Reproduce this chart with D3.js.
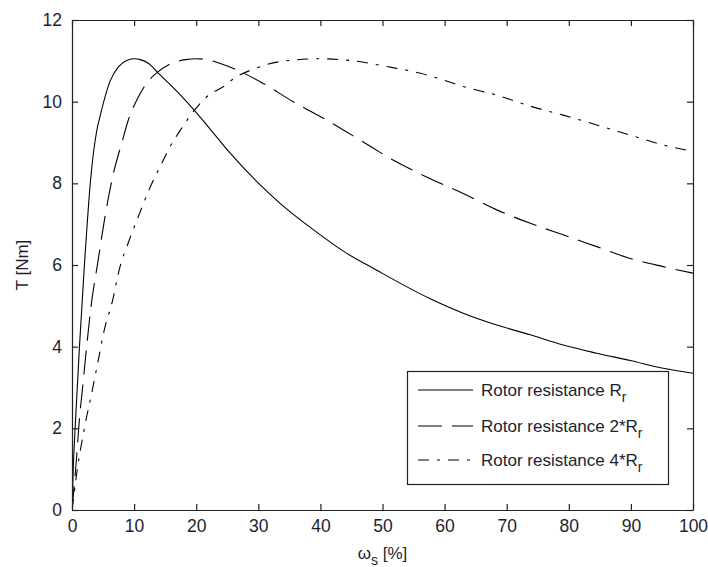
<!DOCTYPE html>
<html><head><meta charset="utf-8">
<script src="https://cdn.jsdelivr.net/npm/d3@7"></script>
<style>body{margin:0;background:#fff}svg{display:block}text{font-family:Arial,"Liberation Sans",sans-serif;}</style>
</head><body><div id="chart"></div>
<script>
// Data
const sR1 = [0, 0.2, 0.5, 1.2, 2.0, 3.0, 4.0, 4.5, 6.1, 7.5, 9.0, 10.0, 11.0, 12.3, 13.9, 16.9, 20.6, 25.4, 30.3, 33.5, 38.9, 44.2, 48.5, 57.6, 63.0, 68.4, 73.8, 79.1, 84.5, 89.9, 95.2, 100];
const tR1 = [0, 1.0, 2.0, 4.0, 6.0, 8.1, 9.3, 9.63, 10.49, 10.86, 11.02, 11.05, 11.03, 10.94, 10.7, 10.25, 9.63, 8.75, 7.96, 7.51, 6.86, 6.29, 5.92, 5.18, 4.82, 4.53, 4.29, 4.04, 3.84, 3.66, 3.47, 3.35];
const sR2 = [0, 0.75, 1.18, 1.72, 2.36, 3.06, 4.13, 5.5, 6.6, 8.0, 9.07, 10.7, 12.0, 13.6, 15.8, 18.3, 20.0, 21.7, 24.0, 30.3, 35.6, 41.0, 46.4, 51.7, 57.6, 63.0, 68.4, 73.8, 79.1, 84.5, 89.9, 95.2, 100];
const tR2 = [0, 1.31, 2.2, 3.02, 4.0, 4.98, 6.04, 7.35, 8.2, 8.98, 9.55, 10.12, 10.45, 10.7, 10.92, 11.03, 11.05, 11.03, 10.93, 10.49, 10.0, 9.55, 9.06, 8.57, 8.12, 7.75, 7.35, 7.02, 6.74, 6.45, 6.16, 5.96, 5.80];
const sR4 = [0, 0.48, 0.91, 1.45, 2.25, 3.06, 4.13, 5.2, 6.55, 7.6, 9.2, 10.9, 12.4, 14.2, 15.8, 17.4, 19.5, 21.7, 24.4, 26.5, 28.6, 33.5, 39.9, 45.3, 50.7, 56.0, 59.0, 63.0, 68.4, 73.8, 79.1, 84.5, 89.9, 95.2, 100];
const tR4 = [0, 0.57, 1.06, 1.55, 2.2, 2.78, 3.59, 4.41, 5.14, 5.88, 6.6, 7.27, 7.84, 8.41, 8.9, 9.29, 9.75, 10.12, 10.37, 10.61, 10.76, 10.98, 11.05, 11.0, 10.86, 10.7, 10.57, 10.37, 10.16, 9.89, 9.67, 9.43, 9.18, 8.94, 8.78];
const xTicks = [0, 10, 20, 30, 40, 50, 60, 70, 80, 90, 100];
const yTicks = [0, 2, 4, 6, 8, 10, 12];
const seriesNames = ["Rotor resistance ", "Rotor resistance 2*", "Rotor resistance 4*"];
const dashes = [null, "24,10", "11,8,3,8"];

const W = 708, H = 567;
const m = {l: 72, r: 15, t: 20, b: 57};
const svg = d3.select("#chart").append("svg").attr("width", W).attr("height", H);
const x = d3.scaleLinear().domain([0, 100]).range([m.l, W - m.r]);
const y = d3.scaleLinear().domain([0, 12]).range([H - m.b, m.t]);
const ink = "#1e1e2e";

svg.append("defs").append("clipPath").attr("id", "clip")
  .append("rect").attr("x", m.l).attr("y", m.t).attr("width", W - m.r - m.l).attr("height", H - m.b - m.t);

const line = d3.line().x(d => x(d[0])).y(d => y(d[1])).curve(d3.curveMonotoneX);
const series = [[sR1, tR1], [sR2, tR2], [sR4, tR4]];
const g = svg.append("g").attr("clip-path", "url(#clip)");
series.forEach((s, i) => {
  const pts = s[0].map((v, j) => [v, s[1][j]]);
  g.append("path").datum(pts).attr("d", line).attr("fill", "none")
    .attr("stroke", "#000").attr("stroke-width", 1.1)
    .attr("stroke-dasharray", dashes[i]);
});

// Axes
const tl = 6;
const axB = svg.append("g").attr("transform", `translate(0,${H - m.b})`)
  .call(d3.axisBottom(x).tickValues(xTicks).tickSizeInner(-tl).tickSizeOuter(0).tickPadding(10));
const axT = svg.append("g").attr("transform", `translate(0,${m.t})`)
  .call(d3.axisTop(x).tickValues(xTicks).tickSizeInner(-tl).tickSizeOuter(0).tickFormat(""));
const axL = svg.append("g").attr("transform", `translate(${m.l},0)`)
  .call(d3.axisLeft(y).tickValues(yTicks).tickSizeInner(-tl).tickSizeOuter(0).tickPadding(10));
const axR = svg.append("g").attr("transform", `translate(${W - m.r},0)`)
  .call(d3.axisRight(y).tickValues(yTicks).tickSizeInner(-tl).tickSizeOuter(0).tickFormat(""));
[axB, axT, axL, axR].forEach(a => {
  a.selectAll(".domain").attr("stroke", "#222").attr("stroke-width", 1.2);
  a.selectAll(".tick line").attr("stroke", "#222").attr("stroke-width", 1.2);
  a.selectAll("text").attr("fill", ink).attr("font-size", 17.5).attr("font-family", "Arial, 'Liberation Sans', sans-serif");
});

// Axis labels
svg.append("text").attr("transform", `translate(28,${(m.t + H - m.b) / 2}) rotate(-90)`)
  .attr("text-anchor", "middle").attr("font-size", 17).attr("fill", ink).text("T [Nm]");
const xl = svg.append("text").attr("x", (m.l + W - m.r) / 2).attr("y", 559)
  .attr("text-anchor", "middle").attr("font-size", 17).attr("fill", ink);
xl.append("tspan").text("ω");
xl.append("tspan").attr("dy", 6).attr("font-size", 14).text("s");
xl.append("tspan").attr("dy", -6).text(" [%]");

// Legend
const lg = svg.append("g");
lg.append("rect").attr("x", 407.5).attr("y", 371.5).attr("width", 261).attr("height", 113)
  .attr("fill", "#fff").attr("stroke", "#222").attr("stroke-width", 1.2);
const rowY = [390, 426, 460];
seriesNames.forEach((nm, i) => {
  lg.append("line").attr("x1", 418).attr("x2", 473).attr("y1", rowY[i]).attr("y2", rowY[i])
    .attr("stroke", "#000").attr("stroke-width", 1.1).attr("stroke-dasharray", dashes[i]);
  const t = lg.append("text").attr("x", 481).attr("y", rowY[i] + 6).attr("font-size", 17).attr("fill", ink);
  t.append("tspan").text(nm + "R");
  t.append("tspan").attr("dy", 6).attr("font-size", 14).text("r");
});
</script></body></html>
